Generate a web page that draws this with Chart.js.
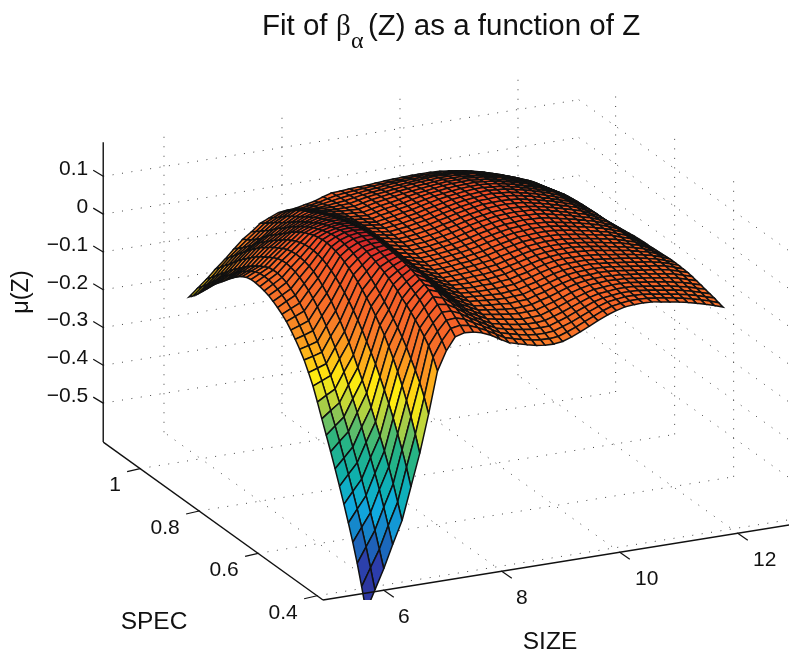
<!DOCTYPE html>
<html>
<head>
<meta charset="utf-8">
<title>Fit of beta as a function of Z</title>
<script src="https://cdn.jsdelivr.net/npm/chart.js@4/dist/chart.umd.js"></script>
<style>
  html, body { margin: 0; padding: 0; background: #fff; }
  canvas { display: block; }
</style>
</head>
<body>
<canvas id="mainChart" width="789" height="657"></canvas>
<script>
// Data
const sizeValues = [5.80, 5.95, 6.10, 6.25, 6.41, 6.56, 6.71, 6.86, 7.01, 7.16, 7.31, 7.47, 7.62, 7.77, 7.92, 8.07, 8.22, 8.37, 8.52, 8.68, 8.83, 8.98, 9.13, 9.28, 9.43, 9.58, 9.73, 9.89, 10.04, 10.19, 10.34, 10.49, 10.64, 10.79, 10.94, 11.10, 11.25, 11.40, 11.55, 11.70, 11.85];
const specValues = [0.400, 0.415, 0.430, 0.445, 0.460, 0.475, 0.490, 0.505, 0.520, 0.535, 0.550, 0.565, 0.580, 0.595, 0.610, 0.625, 0.640, 0.655, 0.670, 0.685, 0.700, 0.715, 0.730, 0.745, 0.760, 0.775, 0.790, 0.805, 0.820, 0.835, 0.850, 0.865, 0.880, 0.895, 0.910, 0.925, 0.940, 0.955, 0.970, 0.985, 1.000];

// one line per SIZE value, running through specValues
const muBySize = [
  [-.665,-.608,-.555,-.508,-.465,-.424,-.385,-.347,-.31,-.275,-.24,-.204,-.17,-.143,-.118,-.098,-.08,-.064,-.05,-.039,-.03,-.022,-.015,-.011,-.008,-.006,-.006,-.009,-.015,-.024,-.035,-.047,-.06,-.072,-.085,-.1,-.115,-.13,-.145,-.158,-.17],
  [-.612,-.562,-.515,-.472,-.432,-.394,-.357,-.322,-.287,-.254,-.222,-.19,-.16,-.135,-.112,-.092,-.073,-.056,-.04,-.028,-.017,-.009,-.002,.003,.006,.007,.006,.002,-.005,-.014,-.023,-.034,-.046,-.058,-.07,-.083,-.097,-.111,-.125,-.138,-.15],
  [-.56,-.517,-.475,-.437,-.40,-.365,-.33,-.297,-.265,-.234,-.205,-.177,-.15,-.127,-.105,-.085,-.065,-.047,-.03,-.017,-.005,.004,.012,.017,.02,.02,.018,.012,.005,-.003,-.012,-.022,-.033,-.044,-.055,-.067,-.08,-.092,-.105,-.118,-.13],
  [-.5,-.458,-.418,-.38,-.345,-.312,-.28,-.248,-.218,-.19,-.162,-.136,-.11,-.088,-.067,-.048,-.03,-.014,0,.012,.022,.03,.036,.04,.042,.041,.038,.032,.025,.017,.009,0,-.01,-.021,-.032,-.044,-.057,-.07,-.082,-.095,-.107],
  [-.44,-.40,-.36,-.324,-.29,-.259,-.23,-.2,-.17,-.145,-.12,-.095,-.07,-.05,-.03,-.012,.005,.018,.03,.041,.05,.056,.06,.062,.063,.061,.058,.052,.045,.038,.03,.021,.012,.001,-.01,-.022,-.035,-.047,-.06,-.072,-.085],
  [-.355,-.312,-.274,-.24,-.207,-.177,-.15,-.123,-.098,-.076,-.055,-.034,-.015,.002,.018,.032,.045,.056,.065,.073,.079,.083,.085,.085,.084,.081,.076,.07,.063,.054,.045,.036,.026,.015,.005,-.007,-.02,-.031,-.042,-.052,-.062],
  [-.27,-.228,-.19,-.156,-.125,-.096,-.07,-.047,-.025,-.007,.01,.026,.04,.053,.065,.076,.085,.093,.10,.105,.108,.11,.11,.108,.105,.1,.095,.088,.08,.071,.06,.05,.04,.03,.02,.008,-.005,-.015,-.025,-.033,-.04],
  [-.17,-.134,-.104,-.08,-.058,-.036,-.017,0,.015,.03,.043,.056,.068,.079,.09,.098,.106,.112,.117,.12,.122,.122,.121,.118,.114,.109,.104,.097,.09,.082,.073,.064,.054,.044,.035,.024,.013,.004,-.006,-.015,-.024],
  [-.06,-.032,-.01,.006,.02,.033,.045,.056,.065,.076,.085,.093,.10,.106,.112,.117,.122,.125,.128,.13,.13,.13,.128,.124,.12,.115,.11,.104,.097,.09,.082,.074,.065,.056,.047,.038,.03,.021,.012,.003,-.005],
  [-.01,.008,.024,.038,.05,.063,.074,.082,.09,.097,.104,.109,.114,.118,.122,.125,.128,.13,.132,.133,.133,.132,.13,.127,.123,.118,.114,.109,.103,.097,.09,.083,.075,.067,.059,.051,.043,.033,.023,.014,.005],
  [.023,.037,.05,.063,.075,.087,.097,.103,.108,.113,.118,.121,.124,.126,.128,.129,.13,.131,.132,.132,.132,.13,.128,.125,.122,.118,.114,.11,.105,.1,.095,.089,.082,.076,.07,.063,.055,.045,.035,.025,.015],
  [.03,.041,.052,.062,.071,.08,.088,.093,.097,.1,.104,.106,.108,.109,.11,.111,.112,.112,.112,.112,.112,.111,.11,.108,.106,.103,.1,.096,.092,.089,.085,.08,.075,.07,.065,.059,.052,.043,.034,.026,.018],
  [.028,.037,.045,.052,.058,.063,.068,.072,.076,.079,.082,.084,.086,.087,.088,.089,.09,.09,.09,.09,.09,.09,.09,.09,.09,.088,.085,.083,.08,.078,.075,.072,.068,.064,.06,.054,.048,.041,.034,.027,.02],
  [.022,.027,.032,.037,.042,.046,.05,.053,.056,.058,.061,.063,.065,.066,.067,.068,.069,.07,.07,.071,.071,.072,.073,.073,.074,.073,.072,.071,.07,.069,.067,.065,.062,.059,.057,.053,.048,.042,.037,.031,.025],
  [.012,.016,.02,.024,.027,.03,.033,.036,.038,.04,.042,.044,.045,.046,.047,.048,.048,.049,.05,.051,.052,.054,.055,.057,.058,.059,.059,.059,.059,.059,.058,.057,.056,.055,.054,.051,.048,.044,.04,.035,.03],
  [-.002,.003,.007,.011,.014,.018,.021,.024,.026,.029,.031,.033,.035,.036,.037,.039,.04,.041,.043,.044,.046,.048,.05,.051,.053,.054,.055,.055,.056,.056,.055,.055,.054,.054,.053,.051,.049,.047,.044,.041,.038],
  [-.015,-.01,-.006,-.002,.002,.006,.009,.012,.015,.018,.02,.023,.025,.027,.028,.03,.032,.034,.036,.038,.04,.042,.044,.046,.048,.049,.05,.051,.052,.052,.052,.052,.052,.052,.052,.051,.05,.049,.048,.046,.045],
  [-.022,-.017,-.012,-.008,-.003,.001,.005,.009,.012,.016,.019,.021,.024,.026,.028,.031,.033,.035,.037,.04,.042,.044,.046,.048,.05,.051,.053,.054,.055,.056,.056,.057,.057,.057,.057,.056,.055,.053,.051,.049,.046],
  [-.028,-.023,-.018,-.013,-.008,-.003,.002,.006,.01,.014,.017,.02,.023,.026,.029,.032,.034,.037,.039,.042,.044,.046,.048,.05,.052,.054,.056,.057,.058,.059,.06,.061,.062,.062,.062,.061,.06,.057,.054,.051,.048],
  [-.034,-.028,-.023,-.017,-.012,-.007,-.002,.003,.008,.012,.016,.02,.024,.027,.031,.034,.037,.04,.042,.045,.047,.05,.052,.054,.056,.058,.06,.062,.063,.064,.065,.066,.066,.066,.066,.065,.063,.06,.057,.053,.049],
  [-.037,-.031,-.026,-.02,-.015,-.01,-.004,.001,.006,.011,.015,.02,.024,.028,.032,.036,.039,.042,.045,.048,.05,.053,.055,.058,.06,.062,.064,.066,.067,.068,.069,.07,.07,.07,.07,.068,.066,.063,.059,.055,.05],
  [-.038,-.032,-.026,-.02,-.015,-.009,-.003,.002,.008,.013,.017,.022,.027,.031,.035,.039,.043,.046,.049,.052,.055,.058,.06,.063,.066,.068,.07,.071,.073,.074,.075,.075,.075,.075,.074,.072,.069,.066,.062,.057,.052],
  [-.035,-.03,-.024,-.019,-.013,-.008,-.002,.004,.009,.014,.019,.024,.029,.034,.038,.042,.046,.05,.053,.057,.06,.063,.066,.069,.071,.073,.075,.077,.078,.079,.08,.08,.08,.079,.077,.075,.072,.068,.064,.059,.054],
  [-.027,-.022,-.016,-.011,-.006,0,.005,.011,.016,.021,.025,.03,.035,.04,.044,.048,.052,.056,.059,.063,.066,.069,.072,.075,.077,.079,.081,.082,.083,.084,.085,.085,.084,.082,.08,.078,.075,.07,.066,.06,.055],
  [-.017,-.013,-.008,-.003,.002,.007,.012,.017,.022,.027,.031,.036,.04,.045,.049,.053,.057,.061,.064,.068,.071,.074,.077,.08,.082,.084,.086,.087,.088,.089,.089,.088,.087,.085,.083,.08,.077,.072,.067,.062,.056],
  [-.006,-.002,.002,.007,.011,.016,.02,.025,.03,.034,.038,.043,.047,.051,.055,.059,.062,.066,.069,.073,.076,.079,.082,.084,.086,.088,.09,.091,.092,.092,.092,.091,.09,.088,.085,.082,.078,.074,.068,.063,.057],
  [.005,.008,.012,.016,.02,.024,.029,.033,.037,.041,.045,.049,.053,.057,.06,.064,.067,.071,.074,.077,.08,.083,.086,.088,.09,.092,.094,.095,.095,.095,.095,.094,.092,.09,.087,.084,.08,.075,.069,.063,.057],
  [.016,.019,.022,.026,.029,.032,.036,.04,.043,.047,.05,.054,.058,.061,.064,.067,.07,.073,.076,.079,.082,.085,.088,.09,.092,.094,.095,.096,.097,.097,.097,.095,.093,.091,.088,.084,.08,.075,.069,.063,.057],
  [.024,.027,.03,.032,.035,.038,.041,.044,.047,.05,.053,.056,.06,.063,.066,.069,.072,.075,.078,.081,.084,.087,.089,.091,.093,.095,.096,.097,.098,.098,.097,.096,.094,.091,.088,.084,.08,.075,.069,.063,.056],
  [.03,.031,.033,.035,.037,.04,.043,.046,.048,.051,.054,.057,.06,.063,.066,.069,.072,.075,.078,.081,.083,.086,.088,.09,.092,.094,.095,.096,.096,.096,.095,.094,.092,.089,.086,.082,.078,.073,.067,.061,.053],
  [.032,.034,.036,.038,.04,.042,.045,.047,.05,.052,.055,.057,.06,.063,.066,.068,.071,.074,.077,.08,.082,.085,.087,.089,.09,.092,.093,.094,.094,.094,.093,.092,.09,.087,.084,.08,.076,.071,.065,.058,.05],
  [.033,.034,.036,.038,.04,.042,.044,.046,.049,.051,.053,.055,.058,.061,.064,.066,.068,.071,.074,.076,.078,.081,.083,.085,.086,.087,.088,.089,.089,.089,.088,.087,.085,.082,.079,.075,.071,.066,.06,.053,.045],
  [.032,.033,.035,.037,.039,.041,.043,.045,.047,.049,.051,.053,.056,.059,.061,.063,.065,.068,.07,.072,.074,.076,.078,.08,.081,.082,.083,.084,.084,.084,.083,.082,.08,.077,.074,.07,.066,.061,.055,.048,.04],
  [.028,.03,.032,.034,.036,.038,.04,.042,.044,.046,.048,.05,.052,.055,.057,.059,.061,.063,.065,.067,.069,.071,.073,.074,.075,.076,.077,.077,.078,.078,.077,.075,.074,.071,.068,.064,.06,.054,.048,.04,.032],
  [.024,.026,.028,.03,.032,.035,.037,.039,.041,.043,.045,.047,.049,.051,.053,.055,.057,.059,.061,.063,.064,.066,.067,.068,.069,.07,.071,.071,.071,.071,.07,.069,.067,.064,.061,.057,.053,.047,.041,.033,.025],
  [.02,.022,.024,.026,.029,.031,.033,.035,.037,.039,.041,.043,.045,.047,.048,.05,.052,.054,.055,.057,.058,.059,.06,.061,.062,.063,.063,.063,.063,.063,.062,.06,.058,.055,.052,.048,.044,.038,.03,.022,.014],
  [.015,.018,.02,.023,.025,.028,.03,.032,.034,.036,.038,.04,.041,.043,.044,.046,.047,.049,.05,.051,.052,.053,.054,.055,.055,.056,.056,.056,.055,.055,.054,.052,.05,.047,.044,.04,.035,.028,.02,.012,.003],
  [.009,.012,.015,.018,.02,.023,.026,.028,.031,.033,.034,.035,.036,.037,.038,.039,.04,.041,.042,.043,.044,.044,.045,.045,.045,.045,.045,.045,.044,.043,.042,.04,.037,.034,.03,.026,.021,.014,.007,-.001,-.01],
  [.003,.006,.009,.012,.015,.018,.021,.024,.026,.028,.029,.03,.031,.032,.032,.033,.033,.034,.034,.035,.035,.035,.035,.035,.035,.035,.034,.033,.032,.031,.029,.027,.025,.021,.017,.013,.008,.001,-.006,-.014,-.022],
  [-.004,-.001,.002,.005,.008,.011,.014,.017,.019,.021,.022,.022,.023,.023,.022,.022,.021,.021,.021,.021,.021,.02,.019,.018,.016,.015,.014,.012,.011,.009,.007,.005,.003,0,-.004,-.007,-.01,-.015,-.02,-.026,-.031],
  [-.012,-.009,-.005,-.002,.001,.004,.007,.01,.012,.013,.014,.014,.014,.013,.012,.011,.01,.009,.009,.008,.007,.005,.003,.001,-.002,-.004,-.006,-.008,-.01,-.012,-.014,-.016,-.019,-.021,-.024,-.026,-.028,-.031,-.034,-.037,-.04]
];

const muTicks = [0.1, 0, -0.1, -0.2, -0.3, -0.4, -0.5];
const muTickLabels = ['0.1', '0', '\u22120.1', '\u22120.2', '\u22120.3', '\u22120.4', '\u22120.5'];
const specTicks = [1, 0.8, 0.6, 0.4];
const specTickLabels = ['1', '0.8', '0.6', '0.4'];
const sizeTicks = [6, 8, 10, 12];
const sizeTickLabels = ['6', '8', '10', '12'];

// Box limits
const SIZE_MIN = 4.97, SIZE_MAX = 13.03;
const SPEC_MIN = 0.38, SPEC_MAX = 1.125;
const MU_MIN = -0.603, MU_MAX = 0.19;

const FONT = '"Liberation Sans", Arial, sans-serif';

// MATLAB view, flattened to the plane of the two hidden chart scales
function project(size, spec, mu) {
    return {
        x: 323 + (size - SIZE_MIN) * 59 - (spec - SPEC_MIN) * 295,
        y: 600 - (size - SIZE_MIN) * 9.5 - (spec - SPEC_MIN) * 212 - (mu - MU_MIN) * 378
    };
}

// softened jet, sampled from the cells of the picture
const COLOR_STOPS = [
    [0, 45, 50, 150], [0.12, 45, 60, 170], [0.2, 25, 110, 190], [0.3, 15, 175, 225],
    [0.38, 15, 175, 170], [0.47, 40, 180, 130], [0.55, 150, 200, 80], [0.6, 225, 225, 40],
    [0.64, 255, 235, 15], [0.72, 252, 160, 30], [0.8, 247, 115, 40], [0.9, 245, 95, 40],
    [0.95, 242, 80, 40], [0.985, 225, 50, 40], [1, 190, 30, 40]
];

function colorFor(mu) {
    const t = Math.min(1, Math.max(0, (mu + 0.66) / 0.795));
    for (let k = 1; k < COLOR_STOPS.length; k++) {
        const a = COLOR_STOPS[k - 1], b = COLOR_STOPS[k];
        if (t <= b[0]) {
            const f = (t - a[0]) / (b[0] - a[0]);
            const c = [1, 2, 3].map(n => Math.round(a[n] + (b[n] - a[n]) * f));
            return `rgb(${c[0]},${c[1]},${c[2]})`;
        }
    }
    return 'rgb(190,30,40)';
}

// Near cells come first: Chart.js paints dataset 0 last
function surfaceDatasets() {
    const out = [];
    for (let i = 0; i < sizeValues.length - 1; i++) {
        for (let j = 0; j < specValues.length - 1; j++) {
            const corners = [[i, j], [i + 1, j], [i + 1, j + 1], [i, j + 1], [i, j]];
            const mean = (muBySize[i][j] + muBySize[i + 1][j] + muBySize[i + 1][j + 1] + muBySize[i][j + 1]) / 4;
            out.push({
                data: corners.map(c => project(sizeValues[c[0]], specValues[c[1]], muBySize[c[0]][c[1]])),
                fill: 'shape',
                backgroundColor: colorFor(mean),
                borderColor: '#111',
                borderWidth: 1.5,
                pointRadius: 0,
                tension: 0
            });
        }
    }
    return out;
}

function gridLine(a, b) {
    return { data: [a, b], borderColor: '#444', borderWidth: 1, borderDash: [1, 8.5], pointRadius: 0, fill: false };
}

function gridDatasets() {
    const out = [];
    muTicks.forEach(m => {
        out.push(gridLine(project(SIZE_MIN, SPEC_MAX, m), project(SIZE_MAX, SPEC_MAX, m)));
        out.push(gridLine(project(SIZE_MAX, SPEC_MAX, m), project(SIZE_MAX, SPEC_MIN, m)));
    });
    sizeTicks.forEach(s => {
        out.push(gridLine(project(s, SPEC_MIN, MU_MIN), project(s, SPEC_MAX, MU_MIN)));
        out.push(gridLine(project(s, SPEC_MAX, MU_MIN), project(s, SPEC_MAX, MU_MAX)));
    });
    specTicks.forEach(p => {
        out.push(gridLine(project(SIZE_MIN, p, MU_MIN), project(SIZE_MAX, p, MU_MIN)));
        out.push(gridLine(project(SIZE_MAX, p, MU_MIN), project(SIZE_MAX, p, MU_MAX)));
    });
    return out;
}

function axisLine(a, b, width) {
    return { data: [a, b], borderColor: '#111', borderWidth: width, pointRadius: 0, fill: false, clip: false };
}

function shifted(p, dx, dy) {
    return { x: p.x + dx, y: p.y + dy };
}

function axisDatasets() {
    const out = [
        axisLine(project(SIZE_MIN, SPEC_MAX, MU_MIN), project(SIZE_MIN, SPEC_MAX, MU_MAX), 1.4),
        axisLine(project(SIZE_MIN, SPEC_MAX, MU_MIN), project(SIZE_MIN, SPEC_MIN, MU_MIN), 1.4),
        axisLine(project(SIZE_MIN, SPEC_MIN, MU_MIN), project(SIZE_MAX, SPEC_MIN, MU_MIN), 1.4)
    ];
    muTicks.forEach(m => {
        const p = project(SIZE_MIN, SPEC_MAX, m);
        out.push(axisLine(p, shifted(p, -10, -6), 1.2));
    });
    specTicks.forEach(v => {
        const p = project(SIZE_MIN, v, MU_MIN);
        out.push(axisLine(p, shifted(p, -13, 3), 1.2));
    });
    sizeTicks.forEach(s => {
        const p = project(s, SPEC_MIN, MU_MIN);
        out.push(axisLine(p, shifted(p, 10, 7), 1.2));
    });
    return out;
}

// Axis text and the title: the hidden scales place them
const textPlugin = {
    id: 'axisText',
    afterDraw(chart) {
        const { ctx, scales } = chart;
        const put = (p, dx, dy, text) => ctx.fillText(text, scales.x.getPixelForValue(p.x) + dx, scales.y.getPixelForValue(p.y) + dy);
        ctx.save();
        ctx.fillStyle = '#111';
        ctx.textBaseline = 'middle';

        ctx.font = `21px ${FONT}`;
        ctx.textAlign = 'right';
        muTicks.forEach((m, i) => put(project(SIZE_MIN, SPEC_MAX, m), -15, -7, muTickLabels[i]));
        ctx.textAlign = 'center';
        specTicks.forEach((v, i) => put(project(SIZE_MIN, v, MU_MIN), i === 0 ? -25 : -34, 17, specTickLabels[i]));
        sizeTicks.forEach((s, i) => put(project(s, SPEC_MIN, MU_MIN), i < 2 ? 20 : 27, 27, sizeTickLabels[i]));

        ctx.font = `24.5px ${FONT}`;
        ctx.fillText('SPEC', 154, 622);
        ctx.fillText('SIZE', 550, 642);
        ctx.save();
        ctx.translate(22, 292);
        ctx.rotate(-Math.PI / 2);
        ctx.font = `23.5px ${FONT}`;
        ctx.fillText('\u03bc(Z)', 0, 0);
        ctx.restore();

        // title, with the subscript
        ctx.textAlign = 'left';
        ctx.textBaseline = 'alphabetic';
        ctx.font = `29.5px ${FONT}`;
        ctx.fillText('Fit of', 262, 35);
        ctx.fillText('(Z) as a function of Z', 368, 35);
        ctx.font = '29px "Liberation Serif", serif';
        ctx.fillText('\u03b2', 336, 35);
        ctx.font = '24px "Liberation Serif", serif';
        ctx.fillText('\u03b1', 351, 48);
        ctx.restore();
    }
};

new Chart(document.getElementById('mainChart').getContext('2d'), {
    type: 'line',
    data: { datasets: [...axisDatasets(), ...surfaceDatasets(), ...gridDatasets()] },
    options: {
        responsive: false,
        animation: false,
        events: [],
        layout: { padding: { bottom: 57 } },
        plugins: { legend: { display: false }, tooltip: { enabled: false }, title: { display: false } },
        scales: {
            x: { type: 'linear', display: false, min: 0, max: 789 },
            y: { type: 'linear', display: false, min: 0, max: 600, reverse: true }
        }
    },
    plugins: [textPlugin]
});
</script>
</body>
</html>
